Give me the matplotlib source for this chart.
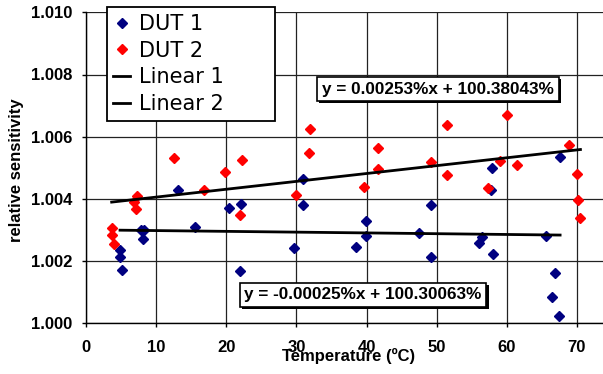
import numpy as np
import matplotlib
matplotlib.use("Agg")
import matplotlib.pyplot as plt
from matplotlib import patheffects
from matplotlib.lines import Line2D

# Measured relative sensitivity versus temperature for two devices
dut1_temp = [4.85, 4.85, 5.13, 7.9, 8.2, 8.08, 13.1, 15.6, 20.4, 22.1, 21.9,
             29.6, 31.0, 30.98, 38.5, 39.96, 39.96, 47.5, 49.2, 49.2,
             56.0, 56.4, 57.7, 57.9, 58.07, 65.6, 66.5, 66.9, 67.5, 67.6]
dut1_sens = [1.00236, 1.00214, 1.00171, 1.00301, 1.00300, 1.00270, 1.00429,
             1.00311, 1.00370, 1.00383, 1.00168, 1.00241, 1.00464, 1.00381,
             1.00246, 1.00328, 1.00282, 1.00289, 1.00379, 1.00212,
             1.00257, 1.00277, 1.00429, 1.00498, 1.00223, 1.00281, 1.00084,
             1.00161, 1.00023, 1.00536]

dut2_temp = [3.66, 3.75, 4.04, 6.8, 7.13, 7.27, 12.55, 16.8, 19.87, 21.9, 22.2,
             29.9, 31.75, 31.97, 39.6, 41.6, 41.6, 49.2, 51.47, 51.5,
             57.26, 59.1, 59.97, 61.44, 68.9, 70.05, 70.1, 70.5]
dut2_sens = [1.00284, 1.00305, 1.00254, 1.00390, 1.00367, 1.00409, 1.00532,
             1.00429, 1.00487, 1.00348, 1.00524, 1.00412, 1.00548, 1.00624,
             1.00439, 1.00563, 1.00496, 1.00520, 1.00637, 1.00476,
             1.00435, 1.00523, 1.00671, 1.00510, 1.00572, 1.00481, 1.00397,
             1.00338]

# Linear trend lines (slope and intercept in percent)
fit1_slope_pct, fit1_icpt_pct = -0.00025, 100.30063
fit2_slope_pct, fit2_icpt_pct = 0.00253, 100.38043

x_ticks = [0, 10, 20, 30, 40, 50, 60, 70]
y_ticks = [1.000, 1.002, 1.004, 1.006, 1.008, 1.010]

plt.rcParams['font.family'] = ['Liberation Sans', 'DejaVu Sans']

fig = plt.figure(figsize=(6.03, 3.74), dpi=100)
ax = fig.add_axes([86 / 603, 1 - 323.3 / 374, 526 / 603, 311 / 374])
ax.set_xlim(0, 75)
ax.set_ylim(1.000, 1.010)

ax.set_xticks(x_ticks)
ax.set_yticks(y_ticks)
ax.set_yticklabels([f"{v:.3f}" for v in y_ticks])
ax.tick_params(axis='both', labelsize=12, length=3, width=1, direction='out')
ax.tick_params(axis='x', pad=9)
ax.tick_params(axis='y', pad=7)
for lab in ax.get_xticklabels() + ax.get_yticklabels():
    lab.set_fontweight('bold')

ax.grid(True, color='#222222', linewidth=0.9)
ax.set_axisbelow(True)
for side in ('top', 'right'):
    ax.spines[side].set_visible(False)
for side in ('left', 'bottom'):
    ax.spines[side].set_linewidth(1.0)
    ax.spines[side].set_color('black')

blue = '#000080'
red = '#FF0000'
ms = 5.4
ax.plot(dut1_temp, dut1_sens, linestyle='none', marker='D', ms=ms,
        color=blue, mec=blue, zorder=3)
ax.plot(dut2_temp, dut2_sens, linestyle='none', marker='D', ms=ms,
        color=red, mec=red, zorder=3)

# Trend lines across the range of each series
t1 = np.array([min(dut1_temp), max(dut1_temp)])
t2 = np.array([min(dut2_temp), max(dut2_temp)])
ax.plot(t1, (fit1_icpt_pct + fit1_slope_pct * t1) / 100, color='black', lw=2, zorder=4)
ax.plot(t2, (fit2_icpt_pct + fit2_slope_pct * t2) / 100, color='black', lw=2, zorder=4)

shadow = [patheffects.withSimplePatchShadow(offset=(1.5, -1.5),
                                            shadow_rgbFace='black', alpha=1.0)]
eq2 = ax.text(50.2, 1.00753, f"y = {fit2_slope_pct:.5f}%x + {fit2_icpt_pct:.5f}%",
              ha='center', va='center', fontsize=12.3, fontweight='bold', zorder=6,
              bbox=dict(boxstyle='square,pad=0.28', fc='white', ec='black', lw=1.2))
eq1 = ax.text(39.5, 1.00091, f"y = {fit1_slope_pct:.5f}%x + {fit1_icpt_pct:.5f}%",
              ha='center', va='center', fontsize=12.3, fontweight='bold', zorder=6,
              bbox=dict(boxstyle='square,pad=0.28', fc='white', ec='black', lw=1.2))
for t in (eq1, eq2):
    t.get_bbox_patch().set_path_effects(shadow)

ax.set_ylabel('relative sensitivity', fontsize=12, fontweight='bold')
ax.yaxis.set_label_coords(-0.118, 0.493)
ax.set_xlabel('Temperature (ºC)', fontsize=12, fontweight='bold')
ax.xaxis.set_label_coords(0.5, -0.105)
ax.xaxis.label.set_va('center')

handles = [
    Line2D([], [], linestyle='none', marker='D', ms=ms, color=blue),
    Line2D([], [], linestyle='none', marker='D', ms=ms, color=red),
    Line2D([], [], color='black', lw=2),
    Line2D([], [], color='black', lw=2),
]
leg_left, leg_top, leg_right, leg_bottom = 106.7, 7.3, 275.3, 117.3
leg = fig.legend(handles, ['DUT 1', 'DUT 2', 'Linear 1', 'Linear 2'],
                 loc='upper left', mode='expand',
                 bbox_to_anchor=(leg_left / 603, 1 - leg_bottom / 374,
                                 (leg_right - leg_left) / 603,
                                 (leg_bottom - leg_top) / 374),
                 borderaxespad=0, prop={'family': 'DejaVu Sans', 'size': 15},
                 handlelength=0.8, handletextpad=0.45, labelspacing=0.32,
                 borderpad=0.32, fancybox=False, framealpha=1, edgecolor='black')
leg.get_frame().set_linewidth(1.3)
leg.set_zorder(10)

fig.savefig('out.png', dpi=100)
